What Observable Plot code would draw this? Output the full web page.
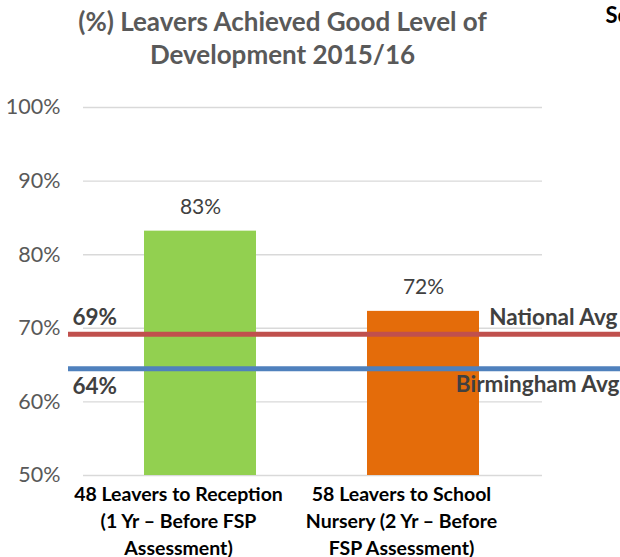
<!DOCTYPE html>
<html>
<head>
<meta charset="utf-8">
<script src="https://cdn.jsdelivr.net/npm/d3@7"></script>
<script src="https://cdn.jsdelivr.net/npm/@observablehq/plot@0.6"></script>
<style>
  html, body { margin: 0; padding: 0; background: #fff; }
  #chart { width: 620px; height: 557px; overflow: hidden; }
</style>
</head>
<body>
<div id="chart"></div>
<script>
const titleLines = ["(%) Leavers Achieved Good Level of", "Development 2015/16"];
const categories = [
  "48 Leavers to Reception\n(1 Yr – Before FSP\nAssessment)",
  "58 Leavers to School\nNursery (2 Yr – Before\nFSP Assessment)"
];
const values = [83.2, 72.3];
const barColors = ["#92d050", "#e46c0a"];
const refNames = ["National Avg", "Birmingham Avg"];
const refValues = [69.2, 64.5];
const refLabels = ["69%", "64%"];
const refColors = ["#c0504d", "#4f81bd"];
const yTicks = [50, 60, 70, 80, 90, 100];
const cornerText = ["Sc"];

const bars = categories.map((c, i) => ({category: c, value: values[i], color: barColors[i]}));
const refs = refNames.map((n, i) => ({name: n, value: refValues[i], label: refLabels[i], color: refColors[i]}));

const font = "Lato, 'Open Sans', sans-serif";
const refText = {fontSize: 22.5, fontWeight: "bold", fill: "#404040"};

const chart = Plot.plot({
  width: 620,
  height: 557,
  marginLeft: 68,
  marginRight: 0,
  marginTop: 107,
  marginBottom: 82,
  style: {fontFamily: font, background: "white", overflow: "visible"},
  x: {domain: categories, range: [82, 541], paddingInner: 0.498, paddingOuter: 0.278, label: null},
  y: {domain: [50, 100], label: null},
  color: {type: "identity"},
  marks: [
    Plot.ruleY(yTicks, {stroke: "#d9d9d9", strokeWidth: 1.4, insetLeft: 15, insetRight: 78}),
    Plot.barY(bars, {x: "category", y1: 50, y2: "value", fill: "color"}),
    Plot.text(bars, {x: "category", y: "value", text: d => Math.round(d.value) + "%", dy: -24, fontSize: 21, fill: "#404040"}),
    Plot.ruleY(refs, {y: "value", stroke: "color", strokeWidth: 5}),
    Plot.text(refs.slice(0, 1), {y: "value", text: "label", frameAnchor: "left", textAnchor: "start", dx: 4, dy: -16, ...refText}),
    Plot.text(refs.slice(1, 2), {y: "value", text: "label", frameAnchor: "left", textAnchor: "start", dx: 4, dy: 18, ...refText}),
    Plot.text(refs.slice(0, 1), {y: "value", text: "name", frameAnchor: "right", textAnchor: "end", dx: -3, dy: -16, ...refText}),
    Plot.text(refs.slice(1, 2), {y: "value", text: "name", frameAnchor: "right", textAnchor: "end", dx: -1, dy: 16, ...refText}),
    Plot.axisY(yTicks, {tickSize: 0, tickPadding: 8, fontSize: 21.5, color: "#595959", tickFormat: d => d + "%"}),
    Plot.axisX({tickSize: 0, tickPadding: 6, fontSize: 19.5, fontWeight: "bold", lineHeight: 1.4, dx: -22, color: "#000"}),
    Plot.text([titleLines[0]], {frameAnchor: "top-left", dx: 214, dy: -85, textAnchor: "middle", lineAnchor: "middle", fontSize: 26, fontWeight: "bold", fill: "#595959"}),
    Plot.text([titleLines[1]], {frameAnchor: "top-left", dx: 214, dy: -52, textAnchor: "middle", lineAnchor: "middle", fontSize: 26, fontWeight: "bold", fill: "#595959"}),
    Plot.text(cornerText, {frameAnchor: "top-right", dx: -15, dy: -92, lineAnchor: "middle", textAnchor: "start", fontSize: 22, fontWeight: "bold", fill: "#000"})
  ]
});
document.getElementById("chart").appendChild(chart);
</script>
</body>
</html>
